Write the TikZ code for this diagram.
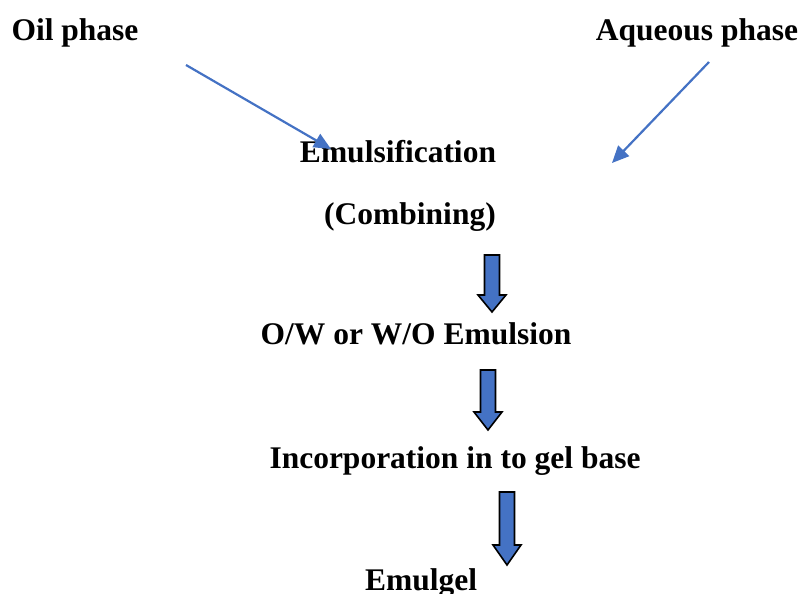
\documentclass[tikz,border=0pt]{standalone}
\usepackage{fontspec}
\setmainfont{Liberation Serif}
\usetikzlibrary{arrows.meta}
\definecolor{arrblue}{HTML}{4472C4}
\tikzset{
  lbl/.style={font=\bfseries\fontsize{31.5}{37}\selectfont, inner sep=0pt, anchor=base},
  thin/.style={draw=arrblue, line width=2.2pt, -{Triangle[length=17pt,width=15pt]}},
  blockarrow/.style={fill=arrblue, draw=black, line width=1.6pt, line join=miter},
}
\newcommand{\blockarr}[4]{% cx, top, headstart, bottom
  \path[blockarrow] (#1-7.5,#2) -- (#1+7.5,#2) -- (#1+7.5,#3) -- (#1+14,#3) -- (#1,#4) -- (#1-14,#3) -- (#1-7.5,#3) -- cycle;
}
\begin{document}
\begin{tikzpicture}[x=1pt,y=-1pt]
\useasboundingbox (0,0) rectangle (801,594);
\node[lbl] (oil) at (75,41) {Oil phase};
\node[lbl] (aq) at (697,41) {Aqueous phase};
\node[lbl] (emu) at (398,162) {Emulsification};
\node[lbl] (comb) at (410,224) {(Combining)};
\node[lbl] (ow) at (416,344) {O/W or W/O Emulsion};
\node[lbl] (inc) at (455,468) {Incorporation in to gel base};
\node[lbl] (gel) at (421,590) {Emulgel};
\coordinate (o1) at (186,65);
\coordinate (o2) at (331,149);
\coordinate (a1) at (709,62);
\coordinate (a2) at (612,163);
\draw[thin] (o1) -- (o2);
\draw[thin] (a1) -- (a2);
\blockarr{492}{255}{295}{312}
\blockarr{488}{370}{412}{430}
\blockarr{507}{492}{545}{565}
\end{tikzpicture}
\end{document}
